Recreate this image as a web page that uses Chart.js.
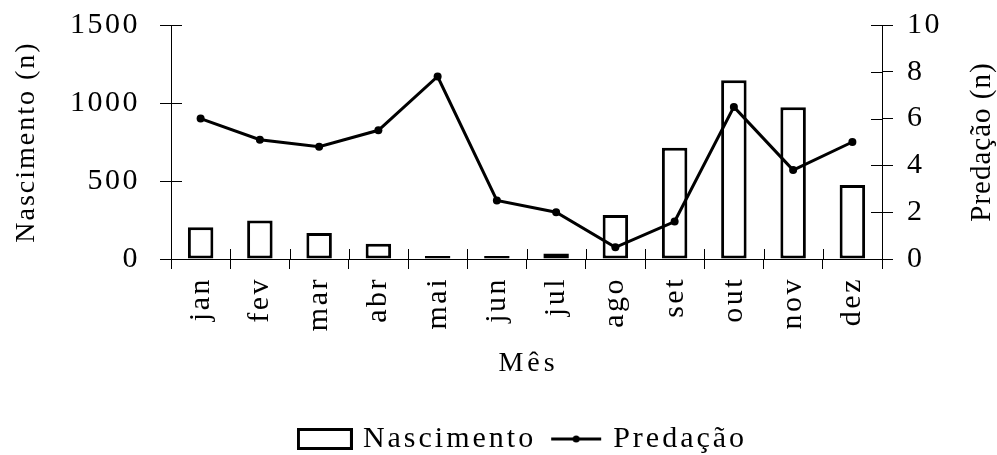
<!DOCTYPE html>
<html lang="pt">
<head>
<meta charset="UTF-8">
<title>Nascimento e Predação por mês</title>
<script src="https://cdn.jsdelivr.net/npm/chart.js"></script>
<style>
  body { margin: 0; background: #fff; }
  .wrap { width: 997px; height: 455px; }
</style>
</head>
<body>
<div class="wrap"><canvas id="chart"></canvas></div>
<script>
  // dados
  const meses = ['jan', 'fev', 'mar', 'abr', 'mai', 'jun', 'jul', 'ago', 'set', 'out', 'nov', 'dez'];
  const nascimento = [204, 246, 166, 97, 20, 20, 36, 282, 713, 1146, 972, 474];
  const predacao = [6.0, 5.1, 4.8, 5.5, 7.8, 2.5, 2.0, 0.5, 1.6, 6.5, 3.8, 5.0];
  const ticksNascimento = [0, 500, 1000, 1500];
  const ticksPredacao = [0, 2, 4, 6, 8, 10];

  const serif = "'Liberation Serif', 'Times New Roman', serif";
  const SPACING = '2.5px';
  const LEGEND_SPACING = '3px';

  // small images used as legend symbols
  function legendGlyph(kind) {
    const c = document.createElement('canvas');
    c.width = 56; c.height = 22;
    const g = c.getContext('2d');
    g.strokeStyle = '#000';
    g.lineWidth = 3;
    if (kind === 'bar') {
      g.fillStyle = '#fff';
      g.fillRect(1.5, 1.5, 53, 19);
      g.strokeRect(1.5, 1.5, 53, 19);
    } else {
      g.beginPath();
      g.moveTo(4, 11); g.lineTo(54, 11);
      g.stroke();
      g.fillStyle = '#000';
      g.beginPath();
      g.arc(29, 11, 3.5, 0, Math.PI * 2);
      g.fill();
    }
    return c;
  }
  const glyphs = [legendGlyph('bar'), legendGlyph('line')];

  // text in the picture is slightly spaced out
  const spacing = {
    id: 'spacing',
    beforeUpdate(chart) { chart.ctx.letterSpacing = SPACING; },
    beforeLayout(chart) {
      chart.ctx.letterSpacing = SPACING;
      const lg = chart.legend;
      if (!lg || lg._patched) return;
      lg._patched = true;
      const fit = lg.fit.bind(lg);
      const draw = lg.draw.bind(lg);
      lg.fit = function () {
        chart.ctx.letterSpacing = LEGEND_SPACING;
        fit();
        this.height -= 9; // sit the legend a bit lower
        chart.ctx.letterSpacing = SPACING;
      };
      lg.draw = function () {
        chart.ctx.letterSpacing = LEGEND_SPACING;
        draw();
        chart.ctx.letterSpacing = SPACING;
      };
    },
    beforeDraw(chart) { chart.ctx.letterSpacing = SPACING; }
  };

  function drawText(ctx, text, x, y, rot, size, ls) {
    ctx.save();
    ctx.letterSpacing = ls;
    ctx.fillStyle = '#000';
    ctx.font = size + 'px ' + serif;
    ctx.textAlign = 'center';
    ctx.textBaseline = 'middle';
    ctx.translate(x, y);
    ctx.rotate(rot);
    ctx.fillText(text, 0, 0);
    ctx.restore();
  }

  // tick marks that cross the axis lines, plus the axis titles
  const axisExtras = {
    id: 'axisExtras',
    afterDraw(chart) {
      const { ctx, chartArea, scales: { x, y, y1 } } = chart;
      ctx.save();
      ctx.strokeStyle = '#000';
      ctx.lineWidth = 1;
      ctx.beginPath();
      y.ticks.forEach(t => {
        const py = Math.round(y.getPixelForValue(t.value)) + 0.5;
        ctx.moveTo(y.right, py); ctx.lineTo(y.right + 11, py);
      });
      y1.ticks.forEach(t => {
        const py = Math.round(y1.getPixelForValue(t.value)) + 0.5;
        ctx.moveTo(y1.left - 11, py); ctx.lineTo(y1.left, py);
      });
      for (let i = 0; i <= meses.length; i++) {
        const px = Math.round(x.getPixelForValue(i - 0.5)) + 0.5;
        ctx.moveTo(px, x.top); ctx.lineTo(px, x.top - 10);
      }
      ctx.stroke();
      ctx.restore();

      const midY = (chartArea.top + chartArea.bottom) / 2;
      drawText(ctx, 'Nascimento (n)', 27, midY, -Math.PI / 2, 28, '2px');
      drawText(ctx, 'Predação (n)', 982, midY, -Math.PI / 2, 29, '1px');
      drawText(ctx, 'Mês', (chartArea.left + chartArea.right) / 2 + 2, 364, 0, 28, '4px');
    }
  };

  new Chart(document.getElementById('chart'), {
    type: 'bar',
    data: {
      labels: meses,
      datasets: [
        {
          type: 'bar',
          label: 'Nascimento',
          data: nascimento,
          yAxisID: 'y',
          backgroundColor: '#fff',
          borderColor: '#000',
          borderWidth: 3,
          borderSkipped: false,
          barPercentage: 0.86,
          categoryPercentage: 0.5,
          order: 2
        },
        {
          type: 'line',
          label: 'Predação',
          data: predacao,
          yAxisID: 'y1',
          borderColor: '#000',
          borderWidth: 3,
          pointRadius: 4,
          pointBackgroundColor: '#000',
          pointBorderColor: '#000',
          pointBorderWidth: 0,
          tension: 0,
          order: 1
        }
      ]
    },
    options: {
      responsive: true,
      maintainAspectRatio: false,
      animation: false,
      layout: { padding: { top: 25, left: 52, right: 0, bottom: 0 } },
      plugins: {
        tooltip: { enabled: false },
        legend: {
          position: 'bottom',
          labels: {
            color: '#000',
            font: { family: serif, size: 30 },
            usePointStyle: true,
            pointStyleWidth: 46,
            boxHeight: 22,
            padding: 16,
            sort: (a, b) => a.datasetIndex - b.datasetIndex,
            generateLabels(chart) {
              const items = Chart.defaults.plugins.legend.labels.generateLabels(chart);
              items.forEach(it => { it.pointStyle = glyphs[it.datasetIndex]; });
              return items;
            }
          }
        }
      },
      scales: {
        x: {
          afterFit: s => { s.height = 149; },
          border: { color: '#000', width: 1 },
          grid: { offset: true, drawOnChartArea: false, color: '#000', tickLength: 10 },
          ticks: {
            color: '#000',
            font: { family: serif, size: 30 },
            minRotation: 90, maxRotation: 90,
            padding: 8
          }
        },
        y: {
          position: 'left',
          min: 0, max: 1500,
          afterFit: s => { s.width = 119; s.paddingTop = 0; s.paddingBottom = 0; },
          afterBuildTicks: s => { s.ticks = ticksNascimento.map(v => ({ value: v })); },
          border: { color: '#000', width: 1 },
          grid: { drawOnChartArea: false, color: '#000', tickLength: 11 },
          ticks: {
            color: '#000',
            font: { family: serif, size: 30 },
            padding: 20,
            callback: v => String(v)
          }
        },
        y1: {
          position: 'right',
          min: 0, max: 10,
          afterFit: s => { s.width = 115; s.paddingTop = 0; s.paddingBottom = 0; },
          afterBuildTicks: s => { s.ticks = ticksPredacao.map(v => ({ value: v })); },
          border: { color: '#000', width: 1 },
          grid: { drawOnChartArea: false, color: '#000', tickLength: 11 },
          ticks: {
            color: '#000',
            font: { family: serif, size: 30 },
            padding: 14,
            callback: v => String(v)
          }
        }
      }
    },
    plugins: [spacing, axisExtras]
  });
</script>
</body>
</html>
